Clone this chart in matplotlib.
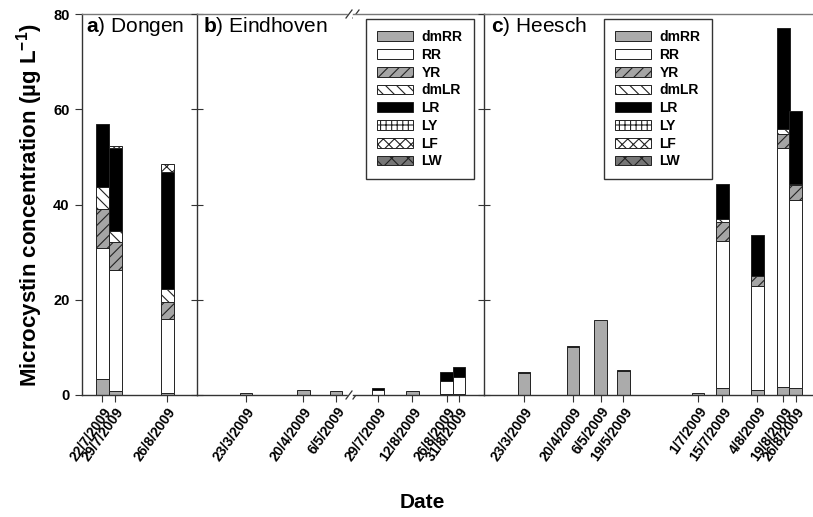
import matplotlib.pyplot as plt
import matplotlib.dates as mdates
import numpy as np
import pandas as pd
from matplotlib.patches import Patch

plt.rcParams['font.family'] = ['Liberation Sans', 'DejaVu Sans']
plt.rcParams['mathtext.fontset'] = 'custom'
plt.rcParams['mathtext.rm'] = 'Liberation Sans'
plt.rcParams['mathtext.bf'] = 'Liberation Sans:bold'
plt.rcParams['hatch.linewidth'] = 0.8

# microcystin variants, stacked bottom -> top
components = ['dmRR', 'RR', 'YR', 'dmLR', 'LR', 'LY', 'LF', 'LW']

# rows = sampling dates, columns = components (ug/L)
dongen_dates = ['22/7/2009', '29/7/2009', '26/8/2009']
dongen_values = [
    [3.4, 27.5, 8.2, 4.6, 13.1, 0, 0, 0],
    [0.8, 25.4, 5.9, 2.4, 17.3, 0, 0.5, 0],
    [0.5, 15.4, 3.6, 2.8, 24.5, 0, 1.8, 0],
]

eindhoven_dates = ['23/3/2009', '20/4/2009', '6/5/2009', '29/7/2009',
                   '12/8/2009', '26/8/2009', '31/8/2009']
eindhoven_values = [
    [0.4, 0, 0, 0, 0, 0, 0, 0],
    [1.1, 0, 0, 0, 0, 0, 0, 0],
    [0.8, 0, 0, 0, 0, 0, 0, 0],
    [0.1, 1.0, 0, 0, 0.4, 0, 0, 0],
    [0.8, 0, 0, 0, 0, 0, 0, 0],
    [0.2, 2.8, 0, 0, 1.8, 0, 0, 0],
    [0.2, 3.5, 0, 0, 2.2, 0, 0, 0],
]

heesch_dates = ['23/3/2009', '20/4/2009', '6/5/2009', '19/5/2009', '1/7/2009',
                '15/7/2009', '4/8/2009', '19/8/2009', '26/8/2009']
heesch_values = [
    [4.6, 0, 0, 0, 0.2, 0, 0, 0],
    [10.1, 0, 0, 0, 0.2, 0, 0, 0],
    [15.8, 0, 0, 0, 0, 0, 0, 0],
    [5.0, 0, 0, 0, 0.2, 0, 0, 0],
    [0.5, 0, 0, 0, 0, 0, 0, 0],
    [1.4, 30.9, 4.0, 0.7, 7.2, 0, 0, 0],
    [1.0, 21.9, 2.0, 0, 8.8, 0, 0, 0],
    [1.7, 50.2, 3.0, 0.9, 21.2, 0, 0, 0],
    [1.4, 39.6, 3.0, 0.3, 15.3, 0, 0, 0],
]

styles = {
    'dmRR': dict(facecolor='#ababab', hatch=None),
    'RR': dict(facecolor='white', hatch=None),
    'YR': dict(facecolor='#a5a5a5', hatch='///'),
    'dmLR': dict(facecolor='white', hatch='\\\\\\'),
    'LR': dict(facecolor='black', hatch=None),
    'LY': dict(facecolor='white', hatch='+++'),
    'LF': dict(facecolor='white', hatch='xxx'),
    'LW': dict(facecolor='#777777', hatch='xx'),
}

W, H = 813, 517
Y0, Y1 = 395, 14
fig = plt.figure(figsize=(W / 100, H / 100), dpi=100)

SPINE = '#333333'


def make_axes(x0, x1):
    ax = fig.add_axes([x0 / W, 1 - Y0 / H, (x1 - x0) / W, (Y0 - Y1) / H])
    ax.set_ylim(0, 80)
    ax.set_yticks([0, 20, 40, 60, 80])
    ax.spines['right'].set_visible(False)
    for s in ax.spines.values():
        s.set_color(SPINE)
        s.set_linewidth(1.0)
    ax.spines['top'].set_color('#777777')
    ax.tick_params(axis='x', direction='out', length=5, color=SPINE, pad=2)
    ax.tick_params(axis='y', length=5, color=SPINE)
    return ax


ax_a = make_axes(82, 197)
ax_b1 = make_axes(197, 353)
ax_b2 = make_axes(353, 484)
ax_c = make_axes(484, 813)

ax_a.tick_params(axis='y', direction='out', labelsize=10.5, pad=4)
for lab in ax_a.get_yticklabels():
    lab.set_fontweight('bold')
for ax in (ax_b1, ax_c):
    ax.tick_params(axis='y', direction='inout', length=9, labelleft=False)
ax_b2.spines['left'].set_visible(False)
ax_b2.tick_params(axis='y', left=False, labelleft=False)

# visible date window of each panel (ISO dates)
xlims = {
    ax_a: ('2009-07-11', '2009-09-11'),
    ax_b1: ('2009-02-27', '2009-05-14 07:00'),
    ax_b2: ('2009-07-18 20:00', '2009-09-10 05:00'),
    ax_c: ('2009-02-28', '2009-09-05'),
}


def to_num(d):
    return mdates.date2num(pd.to_datetime(d, format='%d/%m/%Y'))


def draw(ax, dates, values, bar_px=12.5):
    lo, hi = (mdates.date2num(pd.Timestamp(v)) for v in xlims[ax])
    ax.set_xlim(lo, hi)
    px_w = ax.get_position().width * W
    width = bar_px * (hi - lo) / px_w
    x = np.array([to_num(d) for d in dates])
    vals = np.array(values, dtype=float)
    bottom = np.zeros(len(x))
    for j, comp in enumerate(components):
        h = vals[:, j]
        m = h > 0
        if m.any():
            st = styles[comp]
            ax.bar(x[m], h[m], width=width, bottom=bottom[m],
                   facecolor=st['facecolor'], hatch=st['hatch'],
                   edgecolor='#222222', linewidth=0.7, zorder=2)
        bottom += h
    ax.set_xticks(x)
    ax.set_xticklabels(dates, rotation=55, ha='right', va='top',
                       rotation_mode='anchor', fontsize=10, fontweight='bold')


# Eindhoven split on the broken axis
split = 3
draw(ax_a, dongen_dates, dongen_values)
draw(ax_b1, eindhoven_dates[:split], eindhoven_values[:split])
draw(ax_b2, eindhoven_dates[split:], eindhoven_values[split:])
draw(ax_c, heesch_dates, heesch_values)

# axis break marks between the two Eindhoven segments
bw = ax_b1.get_position().width * W
bh = ax_b1.get_position().height * H
for yb in (0, 1):
    ax_b1.plot([1 - 4 / bw, 1 + 4 / bw], [yb, yb], transform=ax_b1.transAxes,
               color='white', lw=2.5, clip_on=False, zorder=5)
    for off in (-4, 3):
        ax_b1.plot([1 + (off - 3) / bw, 1 + (off + 3) / bw],
                   [yb - 4 / bh, yb + 4 / bh], transform=ax_b1.transAxes,
                   color=SPINE, lw=0.9, clip_on=False, zorder=6)

# panel titles
titles = [(86, r'$\mathbf{a}$) Dongen'), (203, r'$\mathbf{b}$) Eindhoven'),
          (491, r'$\mathbf{c}$) Heesch')]
for xp, t in titles:
    fig.text(xp / W, 1 - 32 / H, t, fontsize=15, va='baseline', ha='left')

# legends
handles = [Patch(facecolor=styles[c]['facecolor'], hatch=styles[c]['hatch'],
                 edgecolor='#222222', linewidth=0.7) for c in components]
for xl in (366, 604):
    leg = fig.legend(handles, components, loc='upper left',
                     bbox_to_anchor=(xl / W, 1 - 19 / H),
                     bbox_transform=fig.transFigure, borderaxespad=0,
                     fancybox=False, framealpha=1, edgecolor=SPINE,
                     prop=dict(weight='bold', size=10), handlelength=2.6,
                     handleheight=0.7, labelspacing=0.27, handletextpad=0.6,
                     borderpad=0.8)
    leg.get_frame().set_linewidth(1.0)

fig.text(30 / W, 1 - 205 / H, r'Microcystin concentration (µg $\mathbf{L^{-1}}$)',
         rotation=90, fontsize=16, fontweight='bold', ha='center', va='center')
fig.text(422 / W, 1 - 503 / H, 'Date', fontsize=15, fontweight='bold',
         ha='center', va='center')

fig.savefig('out.png', dpi=100)
